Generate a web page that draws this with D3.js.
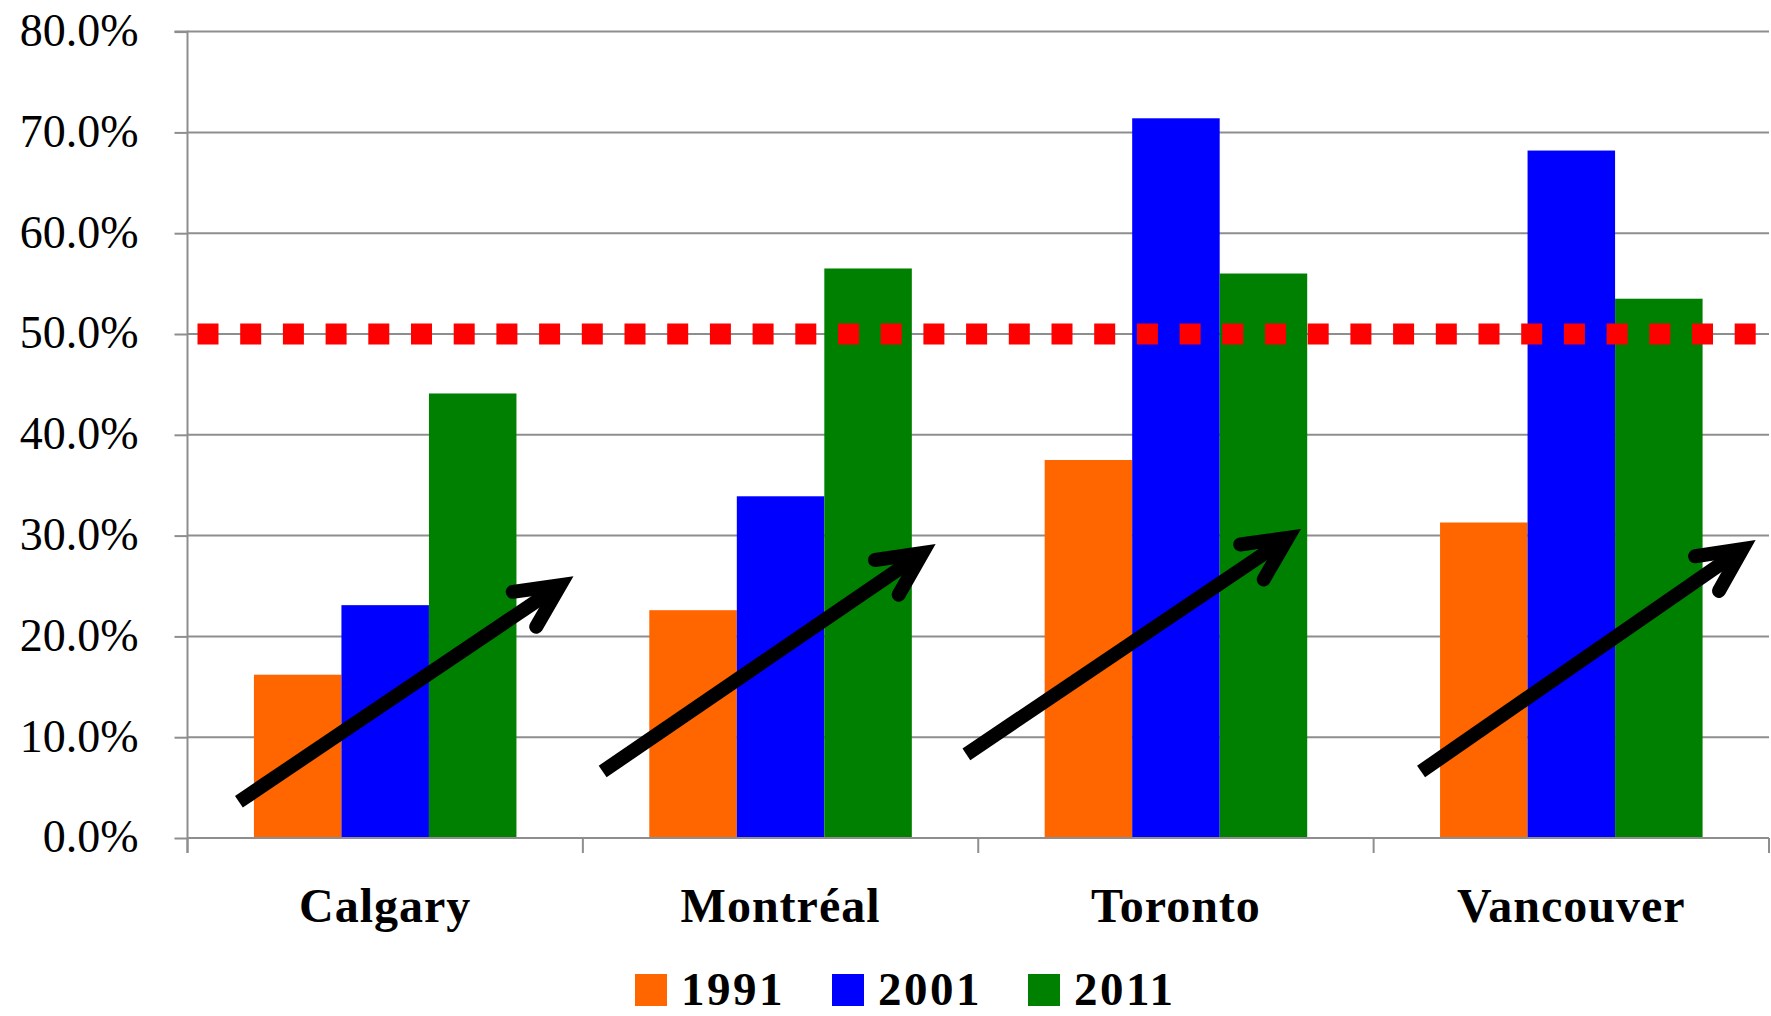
<!DOCTYPE html>
<html>
<head>
<meta charset="utf-8">
<script src="https://cdn.jsdelivr.net/npm/d3@7"></script>
<style>
  html, body { margin: 0; padding: 0; background: #fff; }
  svg { display: block; }
  text { font-family: "Liberation Serif", "DejaVu Serif", serif; fill: #000; }
</style>
</head>
<body>
<svg id="chart" width="1771" height="1016"></svg>
<script>
// Cities and survey years
const cities = ["Calgary", "Montréal", "Toronto", "Vancouver"];
const years = ["1991", "2001", "2011"];

// Share per city, one array per year
const v1991 = [0.162, 0.226, 0.375, 0.313];
const v2001 = [0.231, 0.339, 0.714, 0.682];
const v2011 = [0.441, 0.565, 0.560, 0.535];

const yearColors = ["#FF6600", "#0000FF", "#008000"];
const yTicks = [0, 0.1, 0.2, 0.3, 0.4, 0.5, 0.6, 0.7, 0.8];
const threshold = 0.5;

// Trend arrows: position along the city's band (0..1) and share value at each end
const arrowCity = ["Calgary", "Montréal", "Toronto", "Vancouver"];
const arrowFrom = [[0.13, 0.036], [0.05, 0.066], [-0.03, 0.083], [0.12, 0.066]];
const arrowTo   = [[0.97, 0.258], [0.886, 0.290], [0.81, 0.305], [0.96, 0.294]];

const series = [v1991, v2001, v2011];
const rows = cities.map((c, i) => ({ city: c, vals: years.map((yr, j) => ({ year: yr, value: series[j][i], color: yearColors[j] })) }));

const svg = d3.select("#chart");
const plotLeft = 187.5, plotRight = 1769, plotTop = 31.6, plotBottom = 838;

const x = d3.scaleBand().domain(cities).range([plotLeft, plotRight]).paddingInner(0).paddingOuter(0);
const xs = d3.scaleBand().domain(years).range([x.bandwidth() * 0.168, x.bandwidth() * 0.832]).padding(0);
const y = d3.scaleLinear().domain([0, 0.8]).range([plotBottom, plotTop]);

const gridColor = "#8e8e8e";

// Horizontal gridlines
svg.append("g").selectAll("line").data(yTicks.slice(1)).join("line")
  .attr("x1", plotLeft).attr("x2", plotRight)
  .attr("y1", d => y(d)).attr("y2", d => y(d))
  .attr("stroke", gridColor).attr("stroke-width", 2);

// Y axis with percent labels
const yAxis = d3.axisLeft(y).tickValues(yTicks).tickFormat(d3.format(".1%")).tickSize(13).tickPadding(36);
const gy = svg.append("g").attr("transform", `translate(${plotLeft},0)`).call(yAxis);
gy.select(".domain").attr("stroke", gridColor).attr("stroke-width", 2).attr("d", `M-13,${y(0.8)}H0V${plotBottom + 15}`);
gy.selectAll(".tick line").attr("stroke", gridColor).attr("stroke-width", 2);
gy.selectAll(".tick text").attr("font-size", 46).attr("font-family", "Liberation Serif, serif").attr("fill", "#000").attr("dy", "0.3em");

// Bars
const groups = svg.append("g").selectAll("g").data(rows).join("g")
  .attr("transform", d => `translate(${x(d.city)},0)`);
groups.selectAll("rect").data(d => d.vals).join("rect")
  .attr("x", d => xs(d.year))
  .attr("width", xs.bandwidth())
  .attr("y", d => y(d.value))
  .attr("height", d => y(0) - y(d.value))
  .attr("fill", d => d.color);

// X axis with city labels
const xAxis = d3.axisBottom(x).tickSize(0).tickPadding(50);
const gx = svg.append("g").attr("transform", `translate(0,${plotBottom})`).call(xAxis);
gx.select(".domain").attr("stroke", gridColor).attr("stroke-width", 2).attr("d", `M${plotLeft},0H${plotRight}`);
gx.selectAll(".tick text").attr("font-size", 48).attr("font-weight", "bold").attr("letter-spacing", 1)
  .attr("font-family", "Liberation Serif, serif").attr("fill", "#000");
// category separators
svg.append("g").selectAll("line").data(d3.range(cities.length + 1)).join("line")
  .attr("x1", i => plotLeft + i * x.bandwidth()).attr("x2", i => plotLeft + i * x.bandwidth())
  .attr("y1", plotBottom).attr("y2", plotBottom + 15)
  .attr("stroke", gridColor).attr("stroke-width", 2);

// 50% reference line
svg.append("line")
  .attr("x1", plotLeft + 10).attr("x2", plotRight - 10)
  .attr("y1", y(threshold)).attr("y2", y(threshold))
  .attr("stroke", "#FF0000").attr("stroke-width", 21)
  .attr("stroke-dasharray", "21,21.7");

// Trend arrows
const arrows = svg.append("g");
arrowCity.forEach((c, i) => {
  const x0 = x(c) + arrowFrom[i][0] * x.bandwidth(), y0 = y(arrowFrom[i][1]);
  const xe = x(c) + arrowTo[i][0] * x.bandwidth(), ye = y(arrowTo[i][1]);
  const ang = Math.atan2(y0 - ye, x0 - xe);
  // pull the path tip back so the mitred point lands on the target
  const x1 = xe + Math.cos(ang) * 13, y1 = ye + Math.sin(ang) * 13;
  const len = 48, spread = 26 * Math.PI / 180;
  const shaftEnd = [x1 + Math.cos(ang) * 8, y1 + Math.sin(ang) * 8];
  arrows.append("line")
    .attr("x1", x0).attr("y1", y0).attr("x2", shaftEnd[0]).attr("y2", shaftEnd[1])
    .attr("stroke", "#000").attr("stroke-width", 14).attr("stroke-linecap", "butt");
  const a1 = [x1 + Math.cos(ang + spread) * len, y1 + Math.sin(ang + spread) * len];
  const a2 = [x1 + Math.cos(ang - spread) * len, y1 + Math.sin(ang - spread) * len];
  arrows.append("path")
    .attr("d", `M${a1[0]},${a1[1]}L${x1},${y1}L${a2[0]},${a2[1]}`)
    .attr("fill", "none").attr("stroke", "#000").attr("stroke-width", 14)
    .attr("stroke-linecap", "round").attr("stroke-linejoin", "miter").attr("stroke-miterlimit", 10);
});

// Legend
const legendX = [635, 832, 1028];
const legend = svg.append("g");
years.forEach((yr, i) => {
  legend.append("rect").attr("x", legendX[i]).attr("y", 974).attr("width", 32).attr("height", 32).attr("fill", yearColors[i]);
  legend.append("text").attr("x", legendX[i] + 46).attr("y", 1005)
    .attr("font-size", 47).attr("font-weight", "bold").attr("letter-spacing", 2.5).text(yr);
});
</script>
</body>
</html>
